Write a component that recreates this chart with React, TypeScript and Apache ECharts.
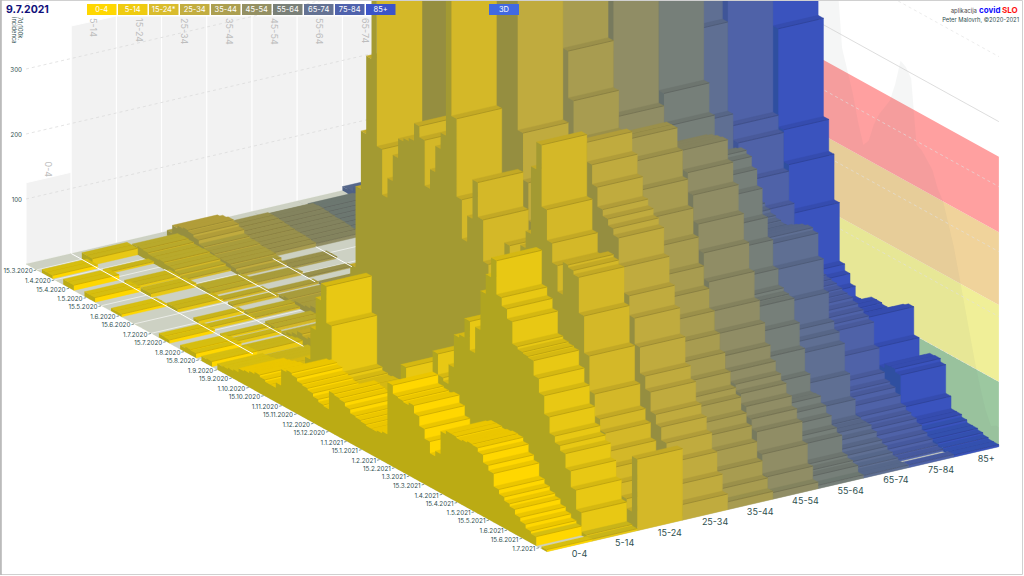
import React, { useEffect, useRef } from "react";
import * as echarts from "echarts";

const ageLabels = ["0-4", "5-14", "15-24", "25-34", "35-44", "45-54", "55-64", "65-74", "75-84", "85+"];
const legendLabels = ["0-4", "5-14", "15-24*", "25-34", "35-44", "45-54", "55-64", "65-74", "75-84", "85+"];
const faceColors = ["#FFD700", "#E8C814", "#D4B828", "#C0AB3E", "#A89C50", "#908D65", "#767F79", "#5F6F93", "#4F62A8", "#3A53BE"];
const sideColors = ["#BBAB14", "#B0A520", "#A39A32", "#958E40", "#8A8650", "#777A5E", "#646F6E", "#4F6185", "#3F5598", "#2F4FA0"];
const lowTopColors = ["#D6BE10", "#C8B41A", "#B8A92C", "#A89C3C", "#98904C", "#83835E", "#6C7770", "#56678A", "#46599E", "#3350AE"];
const legendColors = ["#FFD700", "#EFCB0F", "#D9BC2D", "#C2AD40", "#AC9F50", "#949063", "#7A8078", "#647293", "#4F62AC", "#3C54C8"];
const dateTicks = ["15.3.2020", "1.4.2020", "15.4.2020", "1.5.2020", "15.5.2020", "1.6.2020", "15.6.2020", "1.7.2020", "15.7.2020", "1.8.2020", "15.8.2020", "1.9.2020", "15.9.2020", "1.10.2020", "15.10.2020", "1.11.2020", "15.11.2020", "1.12.2020", "15.12.2020", "1.1.2021", "15.1.2021", "1.2.2021", "15.2.2021", "1.3.2021", "15.3.2021", "1.4.2021", "15.4.2021", "1.5.2021", "15.5.2021", "1.6.2021", "15.6.2021", "1.7.2021"];
const yTicks = [100, 200, 300];
const wallLines = [100, 200, 300, 400, 500, 600];
const riskBands = [[0, 100, "#9CC8A0"], [100, 218, "#F0EF98"], [218, 330, "#F0D39B"], [330, 446, "#FFA0A0"]];
const floorLines = [[1, 0, 171], [2, 45, 176], [3, 72, 108], [4, 62, 102], [5, 60, 94]];

const age04 = [0,0,0,5,5,0,0,8,8,0,0,7,7,0,0,0,4,4,0,0,0,0,0,0,0,6,5,0,0,6,8,7,0,7,8,0,9,10,12,14,20,22,25,28,25,22,22,30,55,58,55,50,48,45,40,36,34,62,60,58,52,46,44,42,40,40,42,45,125,112,110,108,112,100,85,70,52,60,95,100,100,98,100,102,101,95,83,75,55,48,42,38,30,24,18,14,0,3];
const age514 = [0,0,10,10,0,0,3,0,0,0,4,4,0,6,6,0,0,0,5,5,0,0,0,5,0,4,0,0,3,0,5,0,3,6,8,0,6,8,10,12,15,14,15,28,40,90,140,166,110,35,30,28,30,30,32,36,40,40,38,42,45,60,109,70,60,55,62,90,157,125,120,150,200,205,234,190,230,290,320,350,298,285,270,236,232,230,228,205,183,155,130,120,112,90,65,35,5,3];
const age1524 = [0,0,0,12,13,12,10,10,11,9,9,6,3,0,0,4,6,5,0,3,0,4,0,0,5,3,0,0,6,5,0,4,8,12,18,15,18,22,30,40,50,70,100,140,166,290,380,500,800,370,300,330,370,400,405,410,437,420,350,380,420,445,760,480,360,300,340,400,347,283,260,255,270,330,300,280,340,366,470,512,417,370,340,300,350,346,340,285,228,174,140,123,100,80,60,40,25,110];
const age2534 = [0,8,20,24,26,24,20,14,12,12,10,10,10,8,4,0,3,5,0,0,3,0,4,6,4,8,8,10,14,12,10,14,12,10,14,18,22,28,35,45,60,85,120,180,260,380,520,640,720,800,760,700,650,680,620,600,640,680,620,560,520,560,620,700,780,800,700,460,388,330,280,260,250,240,260,290,330,400,480,500,470,440,410,400,390,380,340,300,270,230,190,170,140,125,105,80,50,24];
const age3544 = [0,0,3,12,12,11,10,9,8,8,7,6,0,0,3,3,0,0,2,0,0,4,5,6,8,4,6,10,14,12,8,10,12,10,10,14,18,22,28,38,50,70,110,170,260,380,520,640,760,900,920,900,860,840,800,780,820,860,800,720,680,720,800,900,1000,1100,900,570,498,440,380,340,320,330,350,390,430,470,490,490,460,420,380,340,300,270,240,210,185,160,140,130,110,95,75,50,28,12];
const age4554 = [0,0,4,10,11,10,9,8,8,7,6,5,0,0,0,0,0,0,0,0,2,3,4,5,6,5,6,8,10,12,8,8,10,10,12,14,16,20,26,35,50,70,110,170,260,380,520,640,800,950,1000,1000,950,900,860,840,860,900,820,740,700,780,880,980,1100,1050,950,800,458,420,380,350,340,350,370,400,430,450,455,458,460,430,400,360,320,280,240,210,180,160,145,135,120,105,90,60,30,10];
const age5564 = [0,0,5,10,12,11,10,9,8,7,6,5,3,2,0,0,0,0,0,0,2,3,3,4,4,4,5,6,8,8,6,6,8,8,10,12,12,16,20,28,40,60,90,140,220,330,480,620,780,900,1000,1050,1000,950,900,880,900,950,880,800,800,900,1000,1100,1150,1050,950,700,477,432,320,330,345,370,400,405,400,385,360,320,290,250,225,220,218,185,150,115,89,90,80,69,55,48,22,18,15,5];
const age6574 = [6,8,14,20,22,18,14,10,7,5,4,2,2,0,0,0,2,0,0,0,2,2,3,3,2,3,4,4,6,8,5,6,6,6,8,8,10,12,16,22,32,48,75,120,200,310,450,600,750,900,1000,1100,1050,1000,950,950,1000,1050,1000,950,1000,1100,1250,532,395,340,310,300,295,290,285,280,275,272,270,270,275,280,285,288,284,249,202,162,150,137,95,60,36,34,34,28,20,15,10,6,3,4];
const age7584 = [10,14,24,34,38,30,24,18,12,10,8,6,4,2,0,0,0,0,2,0,0,2,2,2,3,3,2,3,4,5,4,4,4,5,5,6,8,10,12,18,25,38,60,100,170,280,420,580,720,850,1000,1100,1150,1150,1100,1100,1150,1200,1150,1100,1200,1300,1400,1100,377,355,300,255,220,190,185,180,176,172,170,168,165,162,160,155,150,145,140,105,72,62,58,50,38,32,28,22,15,10,5,3,0,4];
const age85 = [15,22,34,50,60,50,38,26,18,12,8,6,4,2,0,0,0,0,0,0,0,0,2,0,0,3,2,2,3,4,3,3,4,4,4,5,6,8,10,14,20,32,55,95,170,280,420,600,800,1000,1200,1300,1350,1400,1350,1400,1450,1500,1450,1400,1400,1500,1500,1500,510,359,310,240,150,140,125,110,110,115,122,122,120,118,125,130,138,143,100,70,78,85,86,81,37,18,18,14,10,10,8,5,3,3];
const totalAll = [5,8,15,20,22,18,14,10,7,5,4,3,3,2,1,1,2,2,1,1,1,2,3,4,5,4,5,7,9,10,8,8,9,9,10,12,15,18,24,30,40,55,85,130,200,300,430,560,700,800,900,950,1000,1000,950,950,1000,1050,1000,950,950,1000,1050,1000,900,800,700,590,480,450,420,380,349,360,390,410,425,440,470,510,505,492,395,390,380,369,345,330,300,270,230,190,150,110,75,45,25,30];

const columns = [age04, age514, age1524, age2534, age3544, age4554, age5564, age6574, age7584, age85];

const STEP = 5;
const LAST_DAY = totalAll.length * STEP;
const FONT = "Inter, 'Noto Sans', sans-serif";
const DARK = "#2F4F4F";

// affine projection of (day, age column, value) into the hidden pixel-scaled axes
const project = (d: number, a: number, v: number): number[] => [
  26 + d * 1.063 + a * 45.2,
  264 + d * 0.587 - a * 10.5 - v * 0.65,
];

const shade = (hex: string, k: number) => {
  const n = parseInt(hex.slice(1), 16);
  const c = [(n >> 16) & 255, (n >> 8) & 255, n & 255].map((x) => Math.round(x * k));
  return `rgb(${c[0]},${c[1]},${c[2]})`;
};

const dayOf = (label: string) => {
  const [dd, mm, yy] = label.split(".").map(Number);
  return (Date.UTC(yy, mm - 1, dd) - Date.UTC(2020, 2, 5)) / 86400000;
};

const poly = (api: any, pts: number[][], fill: string, stroke?: string, lw = 0.4) => ({
  type: "polygon",
  silent: true,
  shape: { points: pts.map((p) => api.coord(p)) },
  style: { fill, stroke: stroke ?? fill, lineWidth: lw },
});

const seg = (api: any, p: number[], q: number[], stroke: string, lw: number, dash?: number[]) => {
  const s = api.coord(p);
  const e = api.coord(q);
  return {
    type: "line",
    silent: true,
    shape: { x1: s[0], y1: s[1], x2: e[0], y2: e[1] },
    style: { stroke, lineWidth: lw, lineDash: dash },
  };
};

const buildOption = () => {
  const base = { type: "custom", coordinateSystem: "cartesian2d", silent: true, progressive: 0, animation: false, clip: false };

  const backPanels = {
    ...base,
    z: 2,
    data: ageLabels.map((_, a) => [a, Math.max(...columns[a])]),
    renderItem: (_: any, api: any) => {
      const a = api.value(0);
      const top = api.value(1);
      const clipTop = (p: number[]) => [p[0], Math.max(p[1], 16)];
      const A = project(0, a, 0);
      const B = project(0, a + 1, 0);
      const C = clipTop(project(0, a + 1, top));
      const D = clipTop(project(0, a, top));
      const mid = project(0, a + 0.5, top);
      const lab = api.coord([mid[0], Math.max(mid[1] - 16, 18)]);
      return {
        type: "group",
        children: [
          { type: "polygon", silent: true, shape: { points: [A, B, C, D].map((p) => api.coord(p)) }, style: { fill: "#F2F2F2", stroke: "#FFFFFF", lineWidth: 1 } },
          {
            type: "text",
            silent: true,
            x: lab[0],
            y: lab[1],
            rotation: -Math.PI / 2,
            style: { text: ageLabels[a], fill: "#BDBDBD", fontSize: 9, fontFamily: FONT, align: "left", verticalAlign: "middle" },
          },
        ],
      };
    },
  };

  const wallBands = {
    ...base,
    z: 3,
    data: riskBands.map((b, i) => [i, b[0], b[1]]),
    renderItem: (_: any, api: any) => {
      const lo = api.value(1);
      const hi = api.value(2);
      const i = api.value(0);
      return poly(api, [project(200, 10, lo), project(LAST_DAY, 10, lo), project(LAST_DAY, 10, hi), project(200, 10, hi)], riskBands[i][2] as string, "none", 0);
    },
  };

  const wallTotal = {
    ...base,
    z: 4,
    data: [[0]],
    renderItem: (_: any, api: any) => {
      const pts = totalAll.map((v, i) => project((i + 0.5) * STEP, 10, v));
      pts.unshift(project(0, 10, 0));
      pts.push(project(LAST_DAY, 10, totalAll[totalAll.length - 1]), project(LAST_DAY, 10, 0));
      return poly(api, pts, "rgba(120,125,125,0.07)", "none", 0);
    },
  };

  const gridLines = {
    ...base,
    z: 5,
    data: wallLines.map((v) => [v]),
    renderItem: (_: any, api: any) => {
      const v = api.value(0);
      return {
        type: "group",
        children: [
          seg(api, project(0, 0, v), project(0, 10, v), "#D8D8D8", 0.7, [3, 3]),
          seg(api, project(0, 10, v), project(LAST_DAY, 10, v), v === 500 ? "#CFCFCF" : "rgba(225,225,225,0.9)", 0.7, v === 500 ? undefined : [3, 3]),
        ],
      };
    },
  };

  const floor = {
    ...base,
    z: 6,
    data: [[0]],
    renderItem: (_: any, api: any) =>
      poly(api, [project(0, 0, 0), project(0, 10, 0), project(LAST_DAY, 10, 0), project(LAST_DAY, 0, 0)], "#CDD1C3"),
  };

  const floorCross = {
    ...base,
    z: 7,
    data: dateTicks.map((t) => [dayOf(t)]),
    renderItem: (_: any, api: any) => {
      const d = api.value(0);
      return seg(api, project(d, 0, 0), project(d, 10, 0), "#FFFFFF", 0.6);
    },
  };

  const columnSeries = columns.map((vals, a) => {
    const face = faceColors[a];
    const top = shade(face, 0.92);
    const edge = shade(face, 0.72);
    return {
      ...base,
      z: 20 - a,
      data: [...vals.map((v, i) => [i, v]), [vals.length, 0]],
      renderItem: (_: any, api: any) => {
        const i = api.value(0);
        const v = api.value(1);
        if (i === vals.length) {
          // the whole left side of the column as one staircase, over its own faces
          const pts: number[][] = [project(0, a, 0)];
          vals.forEach((w, k) => {
            pts.push(project(k * STEP, a, w), project((k + 1) * STEP, a, w));
          });
          pts.push(project(vals.length * STEP, a, 0));
          return poly(api, pts, sideColors[a], "none", 0);
        }
        if (!v) return { type: "group", children: [] };
        const d0 = i * STEP;
        const d1 = d0 + STEP;
        return {
          type: "group",
          children: [
            poly(api, [project(d0, a, v), project(d1, a, v), project(d1, a + 1, v), project(d0, a + 1, v)], v < 15 ? lowTopColors[a] : top),
            poly(api, [project(d1, a, 0), project(d1, a + 1, 0), project(d1, a + 1, v), project(d1, a, v)], face),
            seg(api, project(d1, a, v), project(d1, a + 1, v), edge, 0.6),
          ],
        };
      },
    };
  });

  const floorBoundaries = {
    ...base,
    z: 25,
    data: floorLines,
    renderItem: (_: any, api: any) =>
      seg(api, project(api.value(1), api.value(0), 0), project(api.value(2), api.value(0), 0), "#FFFFFF", 1),
  };

  const ageAxisLabels = {
    ...base,
    z: 30,
    data: ageLabels.map((_, a) => [a]),
    renderItem: (_: any, api: any) => {
      const a = api.value(0);
      const p = api.coord(project(LAST_DAY, a + 0.5, 0));
      return {
        type: "text",
        silent: true,
        style: { text: ageLabels[a], x: p[0] + 10, y: p[1] + 7, fill: DARK, fontSize: 9, fontFamily: FONT, align: "center", verticalAlign: "middle" },
      };
    },
  };

  const dateAxisLabels = {
    ...base,
    z: 30,
    data: dateTicks.map((t, i) => [i, dayOf(t)]),
    renderItem: (_: any, api: any) => {
      const i = api.value(0);
      const p = api.coord(project(api.value(1), 0, 0));
      return {
        type: "group",
        children: [
          { type: "line", silent: true, shape: { x1: p[0] - 3, y1: p[1] + 0.8, x2: p[0] - 0.5, y2: p[1] + 0.2 }, style: { stroke: DARK, lineWidth: 0.6 } },
          {
            type: "text",
            silent: true,
            style: { text: dateTicks[i], x: p[0] - 4, y: p[1] + 1.5, fill: DARK, fontSize: 6.3, fontFamily: FONT, align: "right", verticalAlign: "middle" },
          },
        ],
      };
    },
  };

  const txt = (text: string, x: number, y: number, fontSize: number, fill: string, align = "left", extra: any = {}) => ({
    type: "text",
    silent: true,
    z: 100,
    x,
    y,
    ...extra,
    style: { text, fontSize, fill, fontFamily: FONT, align, verticalAlign: "middle", ...(extra.style || {}) },
  });

  const legendEls: any[] = [];
  legendLabels.forEach((lab, i) => {
    const x = 87 + i * 31;
    legendEls.push({ type: "rect", silent: true, z: 100, shape: { x, y: 4, width: 29.5, height: 11 }, style: { fill: legendColors[i] } });
    legendEls.push(txt(lab, x + 14.7, 9.7, 7.5, "#FFFFFF", "center"));
  });

  const graphics = [
    { type: "rect", silent: true, z: 99, shape: { x: 0.5, y: 0.5, width: 1022, height: 574 }, style: { fill: "none", stroke: "#D0D0D0", lineWidth: 1 } },
    { type: "line", silent: true, z: 99, shape: { x1: 1, y1: 0, x2: 1, y2: 575 }, style: { stroke: "#B5B5B5", lineWidth: 1.5 } },
    txt("9.7.2021", 6, 9.5, 10.5, "#10107A", "left", { style: { fontWeight: "bold" } }),
    ...legendEls,
    { type: "rect", silent: true, z: 100, shape: { x: 489, y: 4, width: 30, height: 11 }, style: { fill: "#4169E1" } },
    txt("3D", 504, 9.7, 7.5, "#FFFFFF", "center"),
    txt("7d/100k.", 20, 17, 5.8, DARK, "left", { rotation: -Math.PI / 2 }),
    txt("incidenca", 14, 17, 5.8, DARK, "left", { rotation: -Math.PI / 2 }),
    ...yTicks.map((v) => txt(String(v), 22, project(0, 0, v)[1] + 0.5, 6.2, DARK, "right")),
    txt("aplikacija", 977, 10, 6, "#4A4A4A", "right"),
    txt("covid", 979, 9.5, 8, "#1010FF", "left", { style: { fontWeight: "bold" } }),
    txt("SLO", 1002, 9.5, 8, "#FF1010", "left", { style: { fontWeight: "bold" } }),
    txt("Peter Malovrh, ©2020-2021", 1019, 19, 5.8, DARK, "right"),
  ];

  return {
    animation: false,
    backgroundColor: "#FFFFFF",
    grid: { left: 0, right: 0, top: 0, bottom: 0 },
    xAxis: { type: "value", min: 0, max: 1024, show: false },
    yAxis: { type: "value", min: 0, max: 576, inverse: true, show: false },
    graphic: { elements: graphics },
    series: [backPanels, wallBands, wallTotal, gridLines, floor, floorCross, ...columnSeries, floorBoundaries, ageAxisLabels, dateAxisLabels],
  };
};

export default function App() {
  const ref = useRef<HTMLDivElement>(null);
  useEffect(() => {
    document.body.style.margin = "0";
    const chart = echarts.init(ref.current as HTMLDivElement, undefined, { renderer: "svg" });
    chart.setOption(buildOption() as any);
    return () => chart.dispose();
  }, []);
  return <div ref={ref} style={{ position: "fixed", left: 0, top: 0, width: 1024, height: 576 }} />;
}
